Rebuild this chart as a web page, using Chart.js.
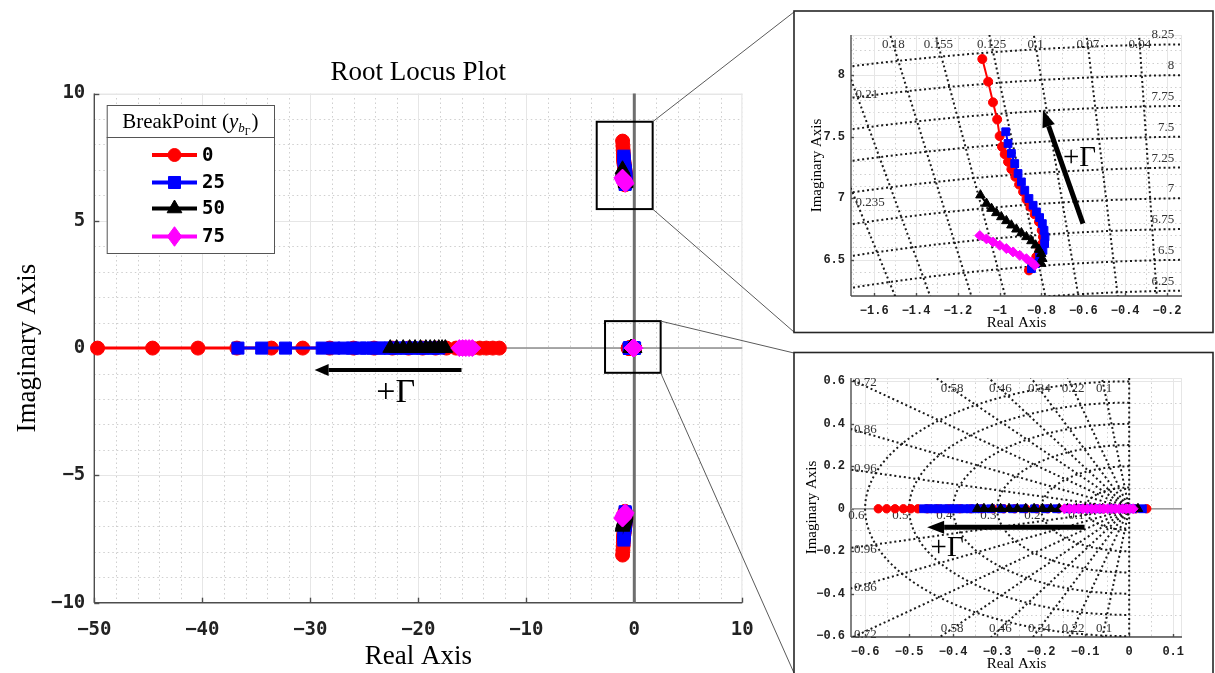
<!DOCTYPE html>
<html>
<head>
<meta charset="utf-8">
<title>Root Locus Plot</title>
<script src="https://cdn.jsdelivr.net/npm/chart.js@4/dist/chart.umd.min.js"></script>
<style>
  html, body { margin: 0; padding: 0; background: #fff; }
  body { width: 1215px; height: 673px; position: relative; overflow: hidden; }
  canvas { position: absolute; }
  #main { left: 0; top: 0; }
  #zoomUpper { left: 796px; top: 13px; }
  #zoomOrigin { left: 796px; top: 355px; }
</style>
</head>
<body>
<canvas id="main" width="1215" height="673"></canvas>
<canvas id="zoomUpper" width="416" height="318"></canvas>
<canvas id="zoomOrigin" width="416" height="317"></canvas>
<script>
// ---------------- series ----------------
const breakPoints  = ['0', '25', '50', '75'];
const lineColors   = ['#ff0000', '#0000ff', '#000000', '#ff00ff'];
const markerStyles = ['circle', 'rect', 'triangle', 'rectRot'];

// fast real pole, moving left as the gain grows
const farRe0  = [-12.5, -13.1, -13.7, -14.3, -15.0, -15.7, -16.5, -17.4, -18.4, -19.6, -20.9, -22.4, -24.1, -26.0, -28.2, -30.7, -33.6, -36.8, -40.4, -44.6, -49.7];
const farRe25 = [-18.1, -18.6, -19.1, -19.6, -20.1, -20.6, -21.1, -21.6, -22.1, -22.6, -23.1, -23.6, -24.2, -24.8, -25.4, -26.1, -26.9, -27.8, -28.9, -32.3, -34.5, -36.7];
const farRe50 = [-17.5, -17.8, -18.1, -18.5, -18.9, -19.3, -19.8, -20.3, -20.8, -21.4, -22.0, -22.6];
const farRe75 = [-15.0, -15.3, -15.6, -15.9, -16.2];

// lightly damped complex pair (upper half, the lower half is its conjugate)
const cplxRe0  = [-0.860, -0.844, -0.825, -0.809, -0.796, -0.793, -0.799, -0.812, -0.833, -0.853, -0.872, -0.888, -0.907, -0.925, -0.944, -0.960, -0.976, -0.989, -1.000, -1.012, -1.032, -1.055, -1.083];
const cplxIm0  = [6.413, 6.468, 6.522, 6.576, 6.630, 6.685, 6.739, 6.807, 6.869, 6.929, 6.988, 7.051, 7.110, 7.173, 7.235, 7.295, 7.357, 7.417, 7.504, 7.639, 7.778, 7.946, 8.130];
const cplxRe25 = [-0.848, -0.828, -0.809, -0.793, -0.785, -0.783, -0.788, -0.796, -0.809, -0.824, -0.840, -0.860, -0.880, -0.896, -0.912, -0.928, -0.944, -0.960, -0.971];
const cplxIm25 = [6.427, 6.468, 6.522, 6.576, 6.630, 6.685, 6.739, 6.793, 6.842, 6.888, 6.942, 6.997, 7.064, 7.132, 7.200, 7.281, 7.363, 7.444, 7.539];
const cplxRe50 = [-0.801, -0.796, -0.801, -0.812, -0.828, -0.848, -0.872, -0.896, -0.920, -0.944, -0.968, -0.992, -1.016, -1.039, -1.063, -1.092];
const cplxIm50 = [6.468, 6.508, 6.549, 6.582, 6.617, 6.652, 6.685, 6.717, 6.747, 6.780, 6.815, 6.847, 6.880, 6.915, 6.956, 7.024];
const cplxRe75 = [-0.832, -0.848, -0.872, -0.904, -0.936, -0.968, -1.000, -1.032, -1.063, -1.095];
const cplxIm75 = [6.454, 6.481, 6.508, 6.535, 6.563, 6.590, 6.617, 6.644, 6.669, 6.696];

// slow real pole next to the origin
const nearRe0  = [0.040, 0.015, -0.010, -0.035, -0.060, -0.085, -0.110, -0.135, -0.160, -0.185, -0.210, -0.235, -0.260, -0.285, -0.310, -0.335, -0.360, -0.385, -0.410, -0.435, -0.458, -0.480, -0.496, -0.513, -0.532, -0.551, -0.570];
const nearRe25 = [0.030, 0.008, -0.015, -0.040, -0.065, -0.090, -0.115, -0.140, -0.165, -0.190, -0.215, -0.240, -0.265, -0.290, -0.315, -0.335, -0.350, -0.362, -0.374, -0.386, -0.398, -0.410, -0.422, -0.434, -0.445, -0.456, -0.467];
const nearRe50 = [0.020, 0.000, -0.020, -0.040, -0.060, -0.080, -0.100, -0.120, -0.140, -0.159, -0.178, -0.197, -0.216, -0.235, -0.254, -0.273, -0.292, -0.311, -0.330, -0.345];
const nearRe75 = [0.009, 0.001, -0.007, -0.015, -0.023, -0.031, -0.040, -0.049, -0.058, -0.067, -0.076, -0.085, -0.095, -0.105, -0.115, -0.125, -0.136, -0.147];

// ---------------- axes ----------------
const mainXTicks  = [-50, -40, -30, -20, -10, 0, 10];
const mainYTicks  = [-10, -5, 0, 5, 10];
const upperXTicks = [-1.6, -1.4, -1.2, -1, -0.8, -0.6, -0.4, -0.2];
const upperYTicks = [6.5, 7, 7.5, 8];
const originXTicks = [-0.6, -0.5, -0.4, -0.3, -0.2, -0.1, 0, 0.1];
const originYTicks = [-0.6, -0.4, -0.2, 0, 0.2, 0.4, 0.6];

// s-plane grid: damping ratios and natural frequencies
const upperZeta  = [0.04, 0.07, 0.1, 0.125, 0.155, 0.18, 0.21, 0.235];
const upperWn    = [6.25, 6.5, 6.75, 7, 7.25, 7.5, 7.75, 8, 8.25];
const originZeta = [0.1, 0.22, 0.34, 0.46, 0.58, 0.72, 0.86, 0.96];
const originWn   = [0.1, 0.2, 0.3, 0.4, 0.5, 0.6];

// ---------------- helpers ----------------
const farRe  = [farRe0, farRe25, farRe50, farRe75];
const cplxRe = [cplxRe0, cplxRe25, cplxRe50, cplxRe75];
const cplxIm = [cplxIm0, cplxIm25, cplxIm50, cplxIm75];
const nearRe = [nearRe0, nearRe25, nearRe50, nearRe75];

const SERIF = '"Liberation Serif", "Times New Roman", serif';
const MONO  = '"DejaVu Sans Mono", monospace';
const MONO2 = '"Liberation Mono", "Courier New", monospace';

const fmt = v => (v < 0 ? '\u2212' : '') + String(Math.abs(Math.round(v * 1000) / 1000));
const pts = (re, im, sign) => re.map((x, i) => ({ x: x, y: im ? sign * im[i] : 0 }));

function makeDatasets(branchesOf, radii, lw) {
  const out = [];
  breakPoints.forEach((name, k) => {
    branchesOf(k).forEach(data => out.push({
      label: name, data: data, showLine: true, tension: 0,
      borderColor: lineColors[k], backgroundColor: lineColors[k], borderWidth: lw,
      pointStyle: markerStyles[k], pointRadius: radii[k], pointHoverRadius: radii[k],
      pointBackgroundColor: lineColors[k], pointBorderColor: lineColors[k], pointBorderWidth: 1,
      order: 4 - k, clip: false
    }));
  });
  return out;
}

function marker(ctx, style, r, x, y, color) {
  ctx.save();
  ctx.fillStyle = color; ctx.strokeStyle = color; ctx.lineWidth = 1; ctx.setLineDash([]);
  ctx.beginPath();
  if (style === 'circle') ctx.arc(x, y, r, 0, 2 * Math.PI);
  else if (style === 'rect') { const s = r * Math.SQRT1_2; ctx.rect(x - s, y - s, 2 * s, 2 * s); }
  else if (style === 'triangle') {
    for (let i = 0; i < 3; i++) {
      const t = -Math.PI / 2 + i * 2 * Math.PI / 3;
      const px = x + r * Math.cos(t), py = y + r * Math.sin(t);
      if (i) ctx.lineTo(px, py); else ctx.moveTo(px, py);
    }
    ctx.closePath();
  } else { ctx.moveTo(x, y - r * 1.15); ctx.lineTo(x + r * 0.85, y); ctx.lineTo(x, y + r * 1.15); ctx.lineTo(x - r * 0.85, y); ctx.closePath(); }
  ctx.fill(); ctx.stroke();
  ctx.restore();
}

function seg(ctx, x1, y1, x2, y2) { ctx.beginPath(); ctx.moveTo(x1, y1); ctx.lineTo(x2, y2); ctx.stroke(); }

function arrow(ctx, x1, y1, x2, y2, shaft, headL, headW) {
  const ang = Math.atan2(y2 - y1, x2 - x1);
  const bx = x2 - headL * Math.cos(ang), by = y2 - headL * Math.sin(ang);
  ctx.save();
  ctx.strokeStyle = '#000'; ctx.fillStyle = '#000'; ctx.lineWidth = shaft; ctx.setLineDash([]);
  seg(ctx, x1, y1, bx, by);
  ctx.beginPath();
  ctx.moveTo(x2, y2);
  ctx.lineTo(bx + headW / 2 * Math.sin(ang), by - headW / 2 * Math.cos(ang));
  ctx.lineTo(bx - headW / 2 * Math.sin(ang), by + headW / 2 * Math.cos(ang));
  ctx.closePath(); ctx.fill();
  ctx.restore();
}

function text(ctx, s, x, y, font, align, color, rot) {
  ctx.save();
  ctx.font = font; ctx.fillStyle = color || '#000';
  ctx.textAlign = align || 'center'; ctx.textBaseline = 'middle';
  ctx.translate(x, y); if (rot) ctx.rotate(rot);
  ctx.fillText(s, 0, 0);
  ctx.restore();
}

// light major grid + dotted minor grid + axis lines with inward ticks
function drawGrid(chart, g) {
  const { ctx, chartArea: a, scales: { x: xs, y: ys } } = chart;
  const X = v => Math.round(xs.getPixelForValue(v)) + 0.5;
  const Y = v => Math.round(ys.getPixelForValue(v)) + 0.5;
  ctx.save();
  ctx.beginPath(); ctx.rect(a.left, a.top, a.right - a.left, a.bottom - a.top); ctx.clip();
  ctx.lineWidth = 1;
  ctx.strokeStyle = '#cfcfcf'; ctx.setLineDash([1.5, 3]);
  for (let v = g.xMin; v <= g.xMax + 1e-9; v += g.xMinorStep) seg(ctx, X(v), a.top, X(v), a.bottom);
  for (let v = g.yMin; v <= g.yMax + 1e-9; v += g.yMinorStep) seg(ctx, a.left, Y(v), a.right, Y(v));
  ctx.setLineDash([]); ctx.strokeStyle = '#e6e6e6';
  g.xTicks.forEach(v => seg(ctx, X(v), a.top, X(v), a.bottom));
  g.yTicks.forEach(v => seg(ctx, a.left, Y(v), a.right, Y(v)));
  ctx.restore();
  ctx.save();
  ctx.strokeStyle = '#e6e6e6'; ctx.lineWidth = 1;
  seg(ctx, a.left, a.top + 0.5, a.right, a.top + 0.5);
  seg(ctx, a.right - 0.5, a.top, a.right - 0.5, a.bottom);
  ctx.strokeStyle = '#4d4d4d'; ctx.lineWidth = 1.4;
  seg(ctx, a.left, a.top, a.left, a.bottom);
  seg(ctx, a.left, a.bottom, a.right, a.bottom);
  g.xTicks.forEach(v => seg(ctx, X(v), a.bottom, X(v), a.bottom - g.tick));
  g.yTicks.forEach(v => seg(ctx, a.left, Y(v), a.left + g.tick, Y(v)));
  ctx.restore();
}

// damping-ratio rays and natural-frequency arcs
function drawSGrid(chart, zetas, wns, withImagAxis) {
  const { ctx, chartArea: a, scales: { x: xs, y: ys } } = chart;
  const X = v => xs.getPixelForValue(v), Y = v => ys.getPixelForValue(v);
  ctx.save();
  ctx.beginPath(); ctx.rect(a.left, a.top, a.right - a.left, a.bottom - a.top); ctx.clip();
  ctx.strokeStyle = '#1a1a1a'; ctx.lineWidth = 2; ctx.setLineDash([2, 2.8]);
  const R = 40;
  zetas.forEach(z => [1, -1].forEach(s => seg(ctx, X(0), Y(0), X(-z * R), Y(s * R * Math.sqrt(1 - z * z)))));
  if (withImagAxis) seg(ctx, X(0), a.top, X(0), a.bottom);
  wns.forEach(w => {
    ctx.beginPath();
    for (let i = 0; i <= 1440; i++) {
      const t = Math.PI / 2 + Math.PI * i / 1440;
      const px = X(w * Math.cos(t)), py = Y(w * Math.sin(t));
      if (i) ctx.lineTo(px, py); else ctx.moveTo(px, py);
    }
    ctx.stroke();
  });
  ctx.restore();
}

function fixedAxes(xMin, xMax, yMin, yMax, xT, yT, yW, xH, font, xPad, yPad) {
  return {
    x: {
      type: 'linear', position: 'bottom', min: xMin, max: xMax,
      afterBuildTicks: s => { s.ticks = xT.map(v => ({ value: v })); },
      afterFit: s => { s.height = xH; },
      ticks: { callback: v => fmt(v), font: font, color: '#222', padding: xPad, maxRotation: 0, autoSkip: false },
      grid: { display: false, drawTicks: false }, border: { display: false }
    },
    y: {
      type: 'linear', position: 'left', min: yMin, max: yMax,
      afterBuildTicks: s => { s.ticks = yT.map(v => ({ value: v })); },
      afterFit: s => { s.width = yW; },
      ticks: { callback: v => fmt(v), font: font, color: '#222', padding: yPad, autoSkip: false },
      grid: { display: false, drawTicks: false }, border: { display: false }
    }
  };
}

const baseOpts = {
  responsive: false, animation: false, devicePixelRatio: 1, events: [],
  plugins: { legend: { display: false }, tooltip: { enabled: false }, title: { display: false } }
};

// ---------------- overall view ----------------
const upperBox  = { x: [-3.48, 1.70], y: [5.46, 8.89] };
const originBox = { x: [-2.71, 2.44], y: [-0.97, 1.06] };

new Chart(document.getElementById('main'), {
  type: 'scatter',
  data: {
    datasets: makeDatasets(k => [
      pts(farRe[k]), pts(cplxRe[k], cplxIm[k], 1), pts(cplxRe[k], cplxIm[k], -1), pts(nearRe[k])
    ], [7, 8.5, 8.5, 8.5], 3)
  },
  options: Object.assign({}, baseOpts, {
    layout: { padding: { left: 0, top: 93.5, right: 472.7, bottom: 0 } },
    scales: fixedAxes(-50, 10, -10, 10, mainXTicks, mainYTicks, 94.3, 70.3,
                      { family: MONO, size: 19, weight: 'bold' }, 16, 9)
  }),
  plugins: [{
    id: 'mainDecor',
    beforeDatasetsDraw(chart) {
      const { ctx, chartArea: a, scales: { x: xs, y: ys } } = chart;
      drawGrid(chart, { xMin: -50, xMax: 10, xMinorStep: 2, yMin: -10, yMax: 10, yMinorStep: 1,
                        xTicks: mainXTicks, yTicks: mainYTicks, tick: 5 });
      ctx.save();
      ctx.strokeStyle = '#8c8c8c'; ctx.lineWidth = 1.5;
      seg(ctx, a.left, ys.getPixelForValue(0), a.right, ys.getPixelForValue(0));
      ctx.strokeStyle = '#6e6e6e'; ctx.lineWidth = 3;
      seg(ctx, xs.getPixelForValue(0), a.top, xs.getPixelForValue(0), a.bottom);
      ctx.restore();
    },
    afterDraw(chart) {
      const { ctx, chartArea: a, scales: { x: xs, y: ys } } = chart;
      const X = v => xs.getPixelForValue(v), Y = v => ys.getPixelForValue(v);

      text(ctx, 'Root Locus Plot', (a.left + a.right) / 2, 73, '27px ' + SERIF);
      text(ctx, 'Real Axis', (a.left + a.right) / 2, 657, '27px ' + SERIF);
      text(ctx, 'Imaginary Axis', 28, (a.top + a.bottom) / 2, '27px ' + SERIF, 'center', '#000', -Math.PI / 2);

      // zoom boxes
      ctx.save();
      ctx.strokeStyle = '#000'; ctx.lineWidth = 2;
      [upperBox, originBox].forEach(b => ctx.strokeRect(X(b.x[0]), Y(b.y[1]), X(b.x[1]) - X(b.x[0]), Y(b.y[0]) - Y(b.y[1])));
      // connectors to the inset frames
      ctx.strokeStyle = '#5a5a5a'; ctx.lineWidth = 1;
      seg(ctx, X(upperBox.x[1]), Y(upperBox.y[1]), 794, 12);
      seg(ctx, X(upperBox.x[1]), Y(upperBox.y[0]), 794, 332);
      seg(ctx, X(originBox.x[1]), Y(originBox.y[1]), 794, 353);
      seg(ctx, X(originBox.x[1]), Y(originBox.y[0]), 794, 673);
      // inset frames
      ctx.strokeStyle = '#262626'; ctx.lineWidth = 1.6;
      ctx.strokeRect(794, 11, 419, 321.5);
      ctx.strokeRect(794, 352.5, 419, 325);
      ctx.restore();

      // gain direction
      arrow(ctx, X(-16.0), Y(-0.86), X(-29.6), Y(-0.86), 4, 14, 12);
      text(ctx, '+\u0393', X(-22.1), Y(-1.76), '34px ' + SERIF);

      // legend
      const L = { left: 106.7, top: 105, right: 274, bottom: 253, sep: 137 };
      ctx.save();
      ctx.fillStyle = '#fff'; ctx.fillRect(L.left, L.top, L.right - L.left, L.bottom - L.top);
      ctx.strokeStyle = '#555'; ctx.lineWidth = 1;
      ctx.strokeRect(L.left + 0.5, L.top + 0.5, L.right - L.left, L.bottom - L.top);
      seg(ctx, L.left, L.sep + 0.5, L.right, L.sep + 0.5);
      ctx.restore();
      // legend title: BreakPoint (y_{b_Γ})
      ctx.save();
      ctx.textBaseline = 'alphabetic'; ctx.fillStyle = '#000';
      const parts = [
        ['BreakPoint (', '21px ' + SERIF, 0, 0],
        ['y', 'italic 21px ' + SERIF, 0, 0],
        ['b', 'italic 13px ' + SERIF, 4, 0],
        ['\u0393', '10px ' + SERIF, 7, 0],
        [')', '21px ' + SERIF, 0, 1]
      ];
      let tw = 0;
      parts.forEach(p => { ctx.font = p[1]; tw += ctx.measureText(p[0]).width + p[3]; });
      let tx = (L.left + L.right) / 2 - tw / 2;
      parts.forEach(p => {
        ctx.font = p[1];
        tx += p[3];
        ctx.fillText(p[0], tx, 128 + p[2]);
        tx += ctx.measureText(p[0]).width;
      });
      ctx.restore();
      const rowY = [155, 182.5, 208.5, 236.5];
      breakPoints.forEach((name, k) => {
        ctx.save();
        ctx.strokeStyle = lineColors[k]; ctx.lineWidth = 4;
        seg(ctx, 152, rowY[k], 197, rowY[k]);
        ctx.restore();
        marker(ctx, markerStyles[k], [6.5, 8.5, 8.5, 8.5][k], 174.5, rowY[k], lineColors[k]);
        text(ctx, name, 202, rowY[k] + 1, 'bold 19px ' + MONO, 'left', '#000');
      });
    }
  }]
});

// ---------------- zoom on the complex pair ----------------
new Chart(document.getElementById('zoomUpper'), {
  type: 'scatter',
  data: { datasets: makeDatasets(k => [pts(cplxRe[k], cplxIm[k], 1)], [4.5, 5.5, 5.5, 5], 2) },
  options: Object.assign({}, baseOpts, {
    layout: { padding: { left: 0, top: 22, right: 30, bottom: 0 } },
    scales: fixedAxes(-1.711, -0.128, 6.205, 8.325, upperXTicks, upperYTicks, 55, 35,
                      { family: MONO2, size: 12, weight: 'bold' }, 8, 6)
  }),
  plugins: [{
    id: 'upperDecor',
    beforeDatasetsDraw(chart) {
      drawGrid(chart, { xMin: -1.7, xMax: -0.1, xMinorStep: 0.1, yMin: 6.2, yMax: 8.4, yMinorStep: 0.1,
                        xTicks: upperXTicks, yTicks: upperYTicks, tick: 3 });
      drawSGrid(chart, upperZeta, upperWn, false);
      const { ctx, scales: { x: xs, y: ys } } = chart;
      const X = v => xs.getPixelForValue(v), Y = v => ys.getPixelForValue(v);
      const f = '13px ' + SERIF;
      upperZeta.forEach(z => {
        if (z < 0.2) {
          const y = 8.244, x = -z * y / Math.sqrt(1 - z * z);
          text(ctx, String(z), X(x), Y(y), f, 'center', '#333');
        } else {
          const x = -1.69, y = -x * Math.sqrt(1 - z * z) / z - 0.03;
          text(ctx, String(z), X(x), Y(y), f, 'left', '#333');
        }
      });
      upperWn.forEach(w => text(ctx, String(w), X(-0.165), Y(w + 0.075), f, 'right', '#333'));
    },
    afterDraw(chart) {
      const { ctx, chartArea: a, scales: { x: xs, y: ys } } = chart;
      const X = v => xs.getPixelForValue(v), Y = v => ys.getPixelForValue(v);
      arrow(ctx, X(-0.6016), Y(6.793), X(-0.793), Y(7.715), 5, 17, 13);
      text(ctx, '+\u0393', X(-0.618), Y(7.32), '29px ' + SERIF);
      text(ctx, 'Real Axis', (a.left + a.right) / 2, 310, '15px ' + SERIF);
      text(ctx, 'Imaginary Axis', 21, (a.top + a.bottom) / 2, '15px ' + SERIF, 'center', '#000', -Math.PI / 2);
    }
  }]
});

// ---------------- zoom on the origin ----------------
new Chart(document.getElementById('zoomOrigin'), {
  type: 'scatter',
  data: { datasets: makeDatasets(k => [pts(nearRe[k])], [4.2, 5.5, 5.5, 5], 2) },
  options: Object.assign({}, baseOpts, {
    layout: { padding: { left: 0, top: 23, right: 30, bottom: 0 } },
    scales: fixedAxes(-0.632, 0.12, -0.604, 0.616, originXTicks, originYTicks, 55, 35,
                      { family: MONO2, size: 12, weight: 'bold' }, 8, 6)
  }),
  plugins: [{
    id: 'originDecor',
    beforeDatasetsDraw(chart) {
      drawGrid(chart, { xMin: -0.65, xMax: 0.15, xMinorStep: 0.05, yMin: -0.6, yMax: 0.6, yMinorStep: 0.1,
                        xTicks: originXTicks, yTicks: originYTicks, tick: 3 });
      const { ctx, chartArea: a, scales: { x: xs, y: ys } } = chart;
      const X = v => xs.getPixelForValue(v), Y = v => ys.getPixelForValue(v);
      ctx.save(); ctx.strokeStyle = '#9a9a9a'; ctx.lineWidth = 1.5;
      seg(ctx, a.left, Y(0), a.right, Y(0)); ctx.restore();
      drawSGrid(chart, originZeta, originWn, true);
      const f = '13px ' + SERIF;
      originZeta.forEach(z => [1, -1].forEach(s => {
        if (z < 0.7) {
          const y = 0.565, x = -z * y / Math.sqrt(1 - z * z);
          text(ctx, String(z), X(x), Y(s * y), f, 'center', '#333');
        } else {
          const y = Math.min(0.6 * Math.sqrt(1 - z * z) / z + 0.015, 0.6);
          text(ctx, String(z), X(-0.625), Y(s * y), f, 'left', '#333');
        }
      }));
      originWn.forEach(w => text(ctx, String(w), X(-w - 0.02), Y(-0.03), f, 'center', '#333'));
    },
    afterDraw(chart) {
      const { ctx, chartArea: a, scales: { x: xs, y: ys } } = chart;
      const X = v => xs.getPixelForValue(v), Y = v => ys.getPixelForValue(v);
      arrow(ctx, X(-0.1013), Y(-0.0869), X(-0.459), Y(-0.0869), 5, 17, 13);
      text(ctx, '+\u0393', X(-0.4136), Y(-0.185), '29px ' + SERIF);
      text(ctx, 'Real Axis', (a.left + a.right) / 2, 309, '15px ' + SERIF);
      text(ctx, 'Imaginary Axis', 16, (a.top + a.bottom) / 2, '15px ' + SERIF, 'center', '#000', -Math.PI / 2);
    }
  }]
});
</script>
</body>
</html>
